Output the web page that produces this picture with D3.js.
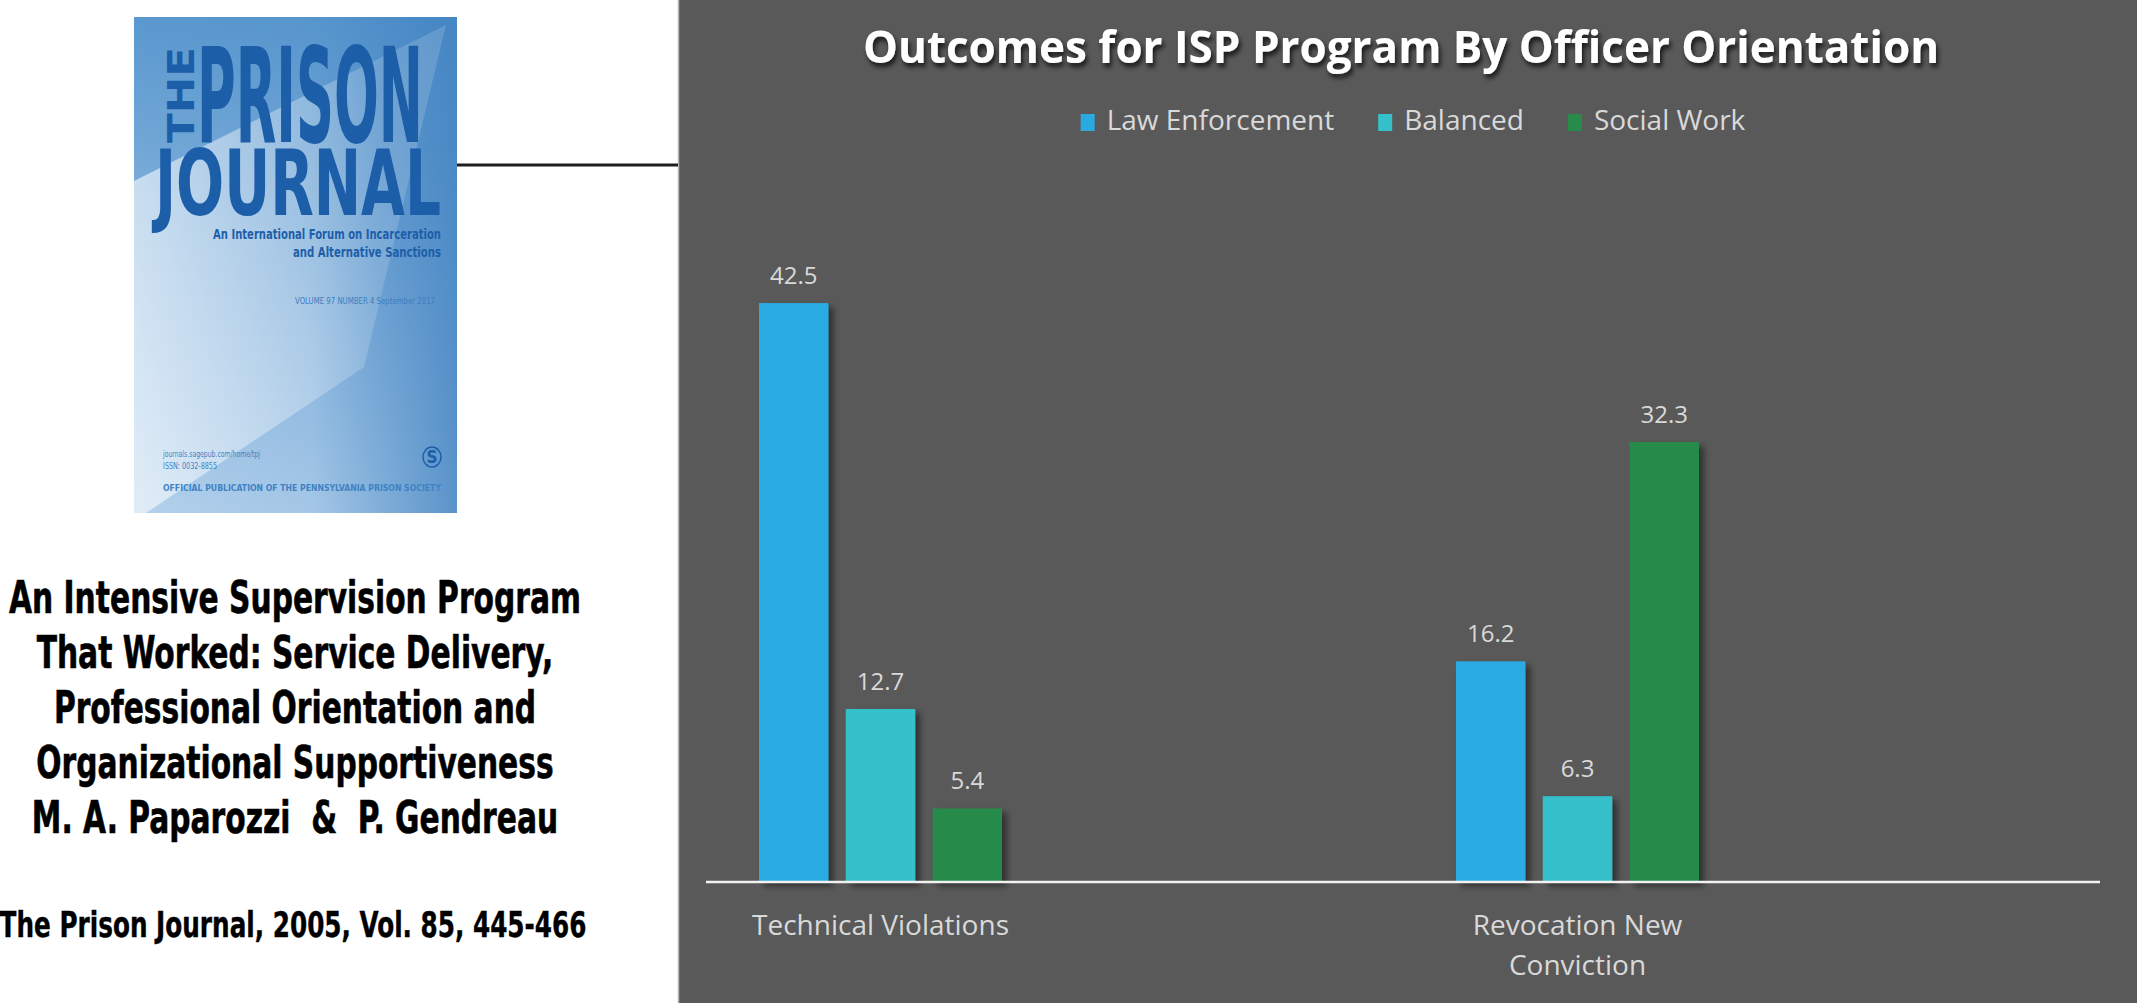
<!DOCTYPE html>
<html>
<head>
<meta charset="utf-8">
<script src="https://cdn.jsdelivr.net/npm/d3@7"></script>
<style>
  body { margin: 0; background: #fff; overflow: hidden; }
</style>
</head>
<body>
<svg id="chart"></svg>
<script>
// chart data
const categories = ["Technical Violations", "Revocation New Conviction"];
const series = ["Law Enforcement", "Balanced", "Social Work"];
const lawEnforcement = [42.5, 16.2];
const balanced = [12.7, 6.3];
const socialWork = [5.4, 32.3];
const seriesColors = ["#29abe2", "#35c0cc", "#288a4b"];
const chartTitle = "Outcomes for ISP Program By Officer Orientation";

// article text on the left
const paperLines = [
    "An Intensive Supervision Program",
    "That Worked: Service Delivery,",
    "Professional Orientation and",
    "Organizational Supportiveness",
    "M. A. Paparozzi\u00a0 & \u00a0P. Gendreau"
];
const citation = "The Prison Journal, 2005, Vol. 85, 445-466";

const W = 2137, H = 1003;
const svg = d3.select("#chart").attr("width", W).attr("height", H);
const defs = svg.append("defs");

const barShadow = defs.append("filter").attr("id", "barShadow")
    .attr("x", "-20%").attr("y", "-10%").attr("width", "150%").attr("height", "125%");
barShadow.append("feDropShadow")
    .attr("dx", 5).attr("dy", 4).attr("stdDeviation", 3)
    .attr("flood-color", "#000").attr("flood-opacity", 0.45);

const titleShadow = defs.append("filter").attr("id", "titleShadow")
    .attr("x", "-5%").attr("y", "-30%").attr("width", "110%").attr("height", "170%");
titleShadow.append("feDropShadow")
    .attr("dx", 2).attr("dy", 4).attr("stdDeviation", 2.5)
    .attr("flood-color", "#000").attr("flood-opacity", 0.75);

// ---------- journal cover ----------
const cover = { x: 134, y: 17, w: 323, h: 496 };
const coverInk = "#1d5ea9";

const gV = defs.append("linearGradient").attr("id", "coverV")
    .attr("x1", 0).attr("y1", 0).attr("x2", 0).attr("y2", 1);
gV.append("stop").attr("offset", 0).attr("stop-color", "#5a98cf");
gV.append("stop").attr("offset", 1).attr("stop-color", "#b3d1ec");

const gH = defs.append("linearGradient").attr("id", "coverH")
    .attr("x1", 0).attr("y1", 0).attr("x2", 1).attr("y2", 0);
gH.append("stop").attr("offset", 0).attr("stop-color", "#3d7fbf").attr("stop-opacity", 0);
gH.append("stop").attr("offset", 0.55).attr("stop-color", "#3d7fbf").attr("stop-opacity", 0.12);
gH.append("stop").attr("offset", 1).attr("stop-color", "#3d7fbf").attr("stop-opacity", 0.75);

const gW = defs.append("linearGradient").attr("id", "coverWedge")
    .attr("gradientUnits", "userSpaceOnUse")
    .attr("x1", cover.x).attr("y1", 0).attr("x2", 380).attr("y2", 0);
gW.append("stop").attr("offset", 0).attr("stop-color", "#fff").attr("stop-opacity", 0.6);
gW.append("stop").attr("offset", 1).attr("stop-color", "#fff").attr("stop-opacity", 0.15);

const cg = svg.append("g");
cg.append("rect").attr("x", cover.x).attr("y", cover.y)
    .attr("width", cover.w).attr("height", cover.h).attr("fill", "url(#coverV)");
cg.append("rect").attr("x", cover.x).attr("y", cover.y)
    .attr("width", cover.w).attr("height", cover.h).attr("fill", "url(#coverH)");
cg.append("path")
    .attr("d", d3.line()([[446, 25], [cover.x, 181], [cover.x, cover.y + cover.h],
        [146, cover.y + cover.h], [364, 367]]) + "Z")
    .attr("fill", "url(#coverWedge)");

const narrow = "'Liberation Sans Narrow', 'DejaVu Sans Condensed', 'Liberation Sans', sans-serif";

cg.append("text").text("THE")
    .attr("transform", "translate(194,143) rotate(-90)")
    .attr("font-family", narrow).attr("font-weight", "bold").attr("font-size", 38)
    .attr("textLength", 96).attr("lengthAdjust", "spacingAndGlyphs")
    .attr("fill", coverInk);
cg.append("text").text("PRISON")
    .attr("x", 197).attr("y", 142)
    .attr("font-family", narrow).attr("font-weight", "bold").attr("font-size", 132)
    .attr("textLength", 226).attr("lengthAdjust", "spacingAndGlyphs")
    .attr("fill", coverInk);
cg.append("text").text("JOURNAL")
    .attr("x", 155).attr("y", 215)
    .attr("font-family", narrow).attr("font-weight", "bold").attr("font-size", 90)
    .attr("textLength", 286).attr("lengthAdjust", "spacingAndGlyphs")
    .attr("fill", coverInk);

const coverSmall = [
    { t: "An International Forum on Incarceration", y: 239, size: 14, len: 228, w: "bold" },
    { t: "and Alternative Sanctions", y: 257, size: 14, len: 148, w: "bold" },
    { t: "VOLUME 97  NUMBER 4  September 2017", y: 304, size: 9, len: 140, w: "normal" }
];
cg.selectAll(".csub").data(coverSmall).join("text")
    .attr("class", "csub")
    .attr("x", (d, i) => i < 2 ? 441 : 435).attr("y", d => d.y)
    .attr("text-anchor", "end")
    .attr("font-family", narrow).attr("font-weight", d => d.w).attr("font-size", d => d.size)
    .attr("textLength", d => d.len).attr("lengthAdjust", "spacingAndGlyphs")
    .attr("fill", (d, i) => i < 2 ? coverInk : "#3b7dc0")
    .text(d => d.t);

const coverFoot = [
    { t: "journals.sagepub.com/home/tpj", y: 457, size: 8, len: 97 },
    { t: "ISSN: 0032-8855", y: 469, size: 8, len: 54 },
    { t: "OFFICIAL PUBLICATION OF THE PENNSYLVANIA PRISON SOCIETY", y: 491, size: 8, len: 278 }
];
cg.selectAll(".cfoot").data(coverFoot).join("text")
    .attr("class", "cfoot")
    .attr("x", 163).attr("y", d => d.y)
    .attr("font-family", narrow).attr("font-weight", (d, i) => i == 2 ? "bold" : "normal")
    .attr("font-size", d => d.size)
    .attr("textLength", d => d.len).attr("lengthAdjust", "spacingAndGlyphs")
    .attr("fill", "#3f82c4")
    .text(d => d.t);

cg.append("ellipse").attr("cx", 432).attr("cy", 457).attr("rx", 9).attr("ry", 10)
    .attr("fill", "none").attr("stroke", coverInk).attr("stroke-width", 1.5);
cg.append("text").text("S").attr("x", 432).attr("y", 463)
    .attr("text-anchor", "middle").attr("font-family", narrow).attr("font-weight", "bold")
    .attr("font-size", 17).attr("fill", coverInk);

// ---------- article text ----------
const textCenter = 295;
const block = svg.append("g").attr("transform", `translate(${textCenter},0)`);
const paperText = block.selectAll("text").data(paperLines).join("text")
    .attr("x", 0).attr("y", (d, i) => 613 + i * 55)
    .attr("text-anchor", "middle")
    .attr("font-family", narrow).attr("font-weight", "bold").attr("font-size", 45)
    .attr("fill", "#000").attr("stroke", "#000").attr("stroke-width", 0.6)
    .text(d => d);
// squeeze the whole block by the same factor so the first line fits
const firstW = paperText.node().getComputedTextLength();
block.attr("transform", `translate(${textCenter},0) scale(${572 / firstW},1)`);

const citeG = svg.append("g");
const cite = citeG.append("text").text(citation)
    .attr("x", 0).attr("y", 937).attr("text-anchor", "middle")
    .attr("font-family", narrow).attr("font-weight", "bold").attr("font-size", 35)
    .attr("fill", "#000").attr("stroke", "#000").attr("stroke-width", 0.4);
citeG.attr("transform", `translate(293,0) scale(${587 / cite.node().getComputedTextLength()},1)`);

// ---------- chart panel ----------
const panelX = 678;
svg.append("rect").attr("x", panelX).attr("y", 0)
    .attr("width", W - panelX).attr("height", H).attr("fill", "#595959");
svg.append("line").attr("x1", panelX + 0.5).attr("x2", panelX + 0.5)
    .attr("y1", 0).attr("y2", H).attr("stroke", "#b5b5b5").attr("stroke-width", 1.5);

// connector from the cover to the chart
svg.append("line").attr("x1", cover.x + cover.w).attr("x2", panelX)
    .attr("y1", 165).attr("y2", 165).attr("stroke", "#1e1e1e").attr("stroke-width", 3);

const font = "'Open Sans', 'Noto Sans', sans-serif";
const labelColor = "#d9d9d9";

svg.append("text").text(chartTitle)
    .attr("x", 1401).attr("y", 63).attr("text-anchor", "middle")
    .attr("font-family", font).attr("font-weight", "bold").attr("font-size", 44)
    .attr("fill", "#fff").attr("filter", "url(#titleShadow)");

// legend
const legendG = svg.append("g").attr("transform", "translate(0,130)");
const items = legendG.selectAll("g").data(series).join("g");
items.append("rect").attr("x", 0).attr("y", -16).attr("width", 14).attr("height", 17)
    .attr("fill", (d, i) => seriesColors[i]);
items.append("text").text(d => d)
    .attr("x", 26).attr("y", 0)
    .attr("font-family", font).attr("font-size", 28).attr("fill", labelColor);
let lx = 0;
const offsets = [];
items.each(function () {
    offsets.push(lx);
    lx += 26 + d3.select(this).select("text").node().getComputedTextLength() + 44;
});
const legendW = lx - 44;
items.attr("transform", (d, i) => `translate(${1413 - legendW / 2 + offsets[i]},0)`);

// scales
const plot = { left: 706, right: 2100, top: 269, base: 882 };
const x0 = d3.scaleBand().domain(categories).range([532, 1926]);
const groupW = 243;
const x1 = d3.scaleBand().domain(series)
    .range([x0.bandwidth() / 2 - groupW / 2, x0.bandwidth() / 2 + groupW / 2])
    .paddingInner(0.2);
const y = d3.scaleLinear().domain([0, 45]).range([plot.base, plot.top]);

const values = [lawEnforcement, balanced, socialWork];
const groups = svg.append("g").selectAll("g").data(categories).join("g")
    .attr("transform", d => `translate(${x0(d)},0)`);

const cells = groups.selectAll("g")
    .data((c, ci) => series.map((s, si) => ({ s, v: values[si][ci], color: seriesColors[si] })))
    .join("g");

cells.append("rect")
    .attr("x", d => x1(d.s)).attr("width", x1.bandwidth())
    .attr("y", d => y(d.v)).attr("height", d => y(0) - y(d.v))
    .attr("fill", d => d.color)
    .attr("filter", "url(#barShadow)");

cells.append("text")
    .attr("x", d => x1(d.s) + x1.bandwidth() / 2)
    .attr("y", d => y(d.v) - 19)
    .attr("text-anchor", "middle")
    .attr("font-family", font).attr("font-size", 24).attr("fill", labelColor)
    .text(d => d.v.toFixed(1));

// baseline
svg.append("line").attr("x1", plot.left).attr("x2", plot.right)
    .attr("y1", y(0)).attr("y2", y(0))
    .attr("stroke", "#f2f2f2").attr("stroke-width", 2.5);

// category axis
const axis = svg.append("g").attr("transform", `translate(0,${y(0)})`)
    .call(d3.axisBottom(x0).tickSize(0));
axis.select(".domain").remove();
axis.selectAll("text")
    .attr("font-family", font).attr("font-size", 28).attr("fill", labelColor)
    .attr("y", 53).attr("dy", 0)
    .call(wrap, 280);

function wrap(text, width) {
    text.each(function () {
        const t = d3.select(this);
        const words = t.text().split(/\s+/);
        t.text(null);
        let line = [];
        let tspan = t.append("tspan").attr("x", 0).attr("dy", 0);
        words.forEach(w => {
            line.push(w);
            tspan.text(line.join(" "));
            if (tspan.node().getComputedTextLength() > width && line.length > 1) {
                line.pop();
                tspan.text(line.join(" "));
                line = [w];
                tspan = t.append("tspan").attr("x", 0).attr("dy", 40).text(w);
            }
        });
    });
}
</script>
</body>
</html>
